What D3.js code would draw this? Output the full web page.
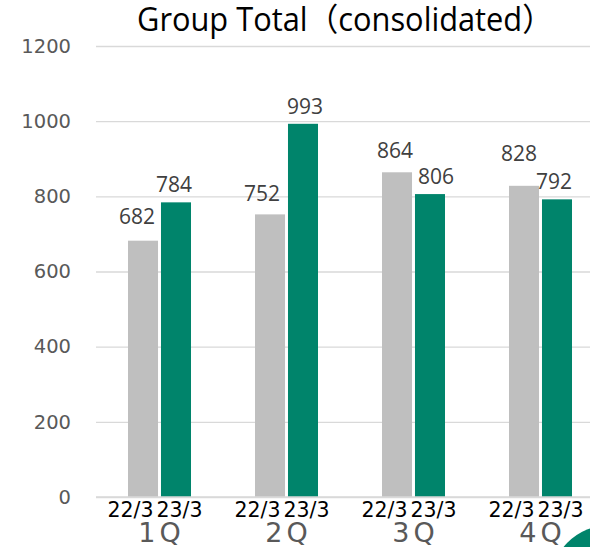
<!DOCTYPE html>
<html>
<head>
<meta charset="utf-8">
<script src="https://cdn.jsdelivr.net/npm/d3@7.9.0/dist/d3.min.js"></script>
<style>
  html, body { margin: 0; padding: 0; background: #fff; }
  svg { display: block; }
</style>
</head>
<body>
<div id="chart"></div>
<script>
// data
const quarters = ["1Q", "2Q", "3Q", "4Q"];
const periods = ["22/3", "23/3"];
const values22 = [682, 752, 864, 828];
const values23 = [784, 993, 806, 792];
const yTicks = [0, 200, 400, 600, 800, 1000, 1200];

// adjust: chart size
const width = 590;
const height = 547;
const margin = { top: 46, right: -14, bottom: 50, left: 96 };

// adjust: label nudges (dx, dy) where Excel moved labels apart
const nudge22 = [[-6, -7], [-8, -3], [-2, -4], [-5, -15]];
const nudge23 = [[-2, 0], [2, 0], [6, 0], [-3, 0]];

const colors = { "22/3": "#bfbfbf", "23/3": "#00846b" };

const rows = quarters.map((q, i) => ({
  quarter: q,
  bars: [
    { period: periods[0], value: values22[i], nudge: nudge22[i] },
    { period: periods[1], value: values23[i], nudge: nudge23[i] }
  ]
}));

const svg = d3.select("#chart")
  .append("svg")
  .attr("width", width)
  .attr("height", height);

const x0 = d3.scaleBand()
  .domain(quarters)
  .range([margin.left, width - margin.right]);

const x1 = d3.scaleBand()
  .domain(periods)
  .range([0, x0.bandwidth()])
  .paddingInner(0.09)
  .paddingOuter(0.97);

const y = d3.scaleLinear()
  .domain([0, 1200])
  .range([height - margin.bottom, margin.top]);

// gridlines
svg.append("g")
  .attr("transform", `translate(${margin.left},0)`)
  .call(d3.axisLeft(y).tickValues(yTicks).tickSize(-(width - margin.right - margin.left)).tickFormat(""))
  .call(g => g.select(".domain").remove())
  .call(g => g.selectAll("line").attr("stroke", "#d9d9d9").attr("stroke-width", 1.3));

// y labels
svg.append("g")
  .attr("transform", `translate(71,0)`)
  .call(d3.axisLeft(y).tickValues(yTicks).tickSize(0).tickPadding(0).tickFormat(d3.format("d")))
  .call(g => g.select(".domain").remove())
  .call(g => g.selectAll("text")
    .attr("fill", "#595959")
    .attr("font-family", "DejaVu Sans")
    .attr("font-size", 19.5));

// bars
const group = svg.append("g")
  .selectAll("g")
  .data(rows)
  .join("g")
  .attr("transform", d => `translate(${x0(d.quarter)},0)`);

group.selectAll("rect")
  .data(d => d.bars)
  .join("rect")
  .attr("x", d => x1(d.period))
  .attr("y", d => y(d.value))
  .attr("width", x1.bandwidth())
  .attr("height", d => y(0) - y(d.value))
  .attr("fill", d => colors[d.period]);

group.selectAll("text.val")
  .data(d => d.bars)
  .join("text")
  .attr("class", "val")
  .attr("x", d => x1(d.period) + x1.bandwidth() / 2 + d.nudge[0])
  .attr("y", d => y(d.value) - 10 + d.nudge[1])
  .attr("text-anchor", "middle")
  .attr("font-family", "Open Sans")
  .attr("font-size", 21)
  .attr("fill", "#404040")
  .text(d => d.value);

// baseline
svg.append("line")
  .attr("x1", margin.left)
  .attr("x2", width)
  .attr("y1", y(0))
  .attr("y2", y(0))
  .attr("stroke", "#d9d9d9")
  .attr("stroke-width", 1.5);

// category labels (two levels)
const cats = svg.append("g")
  .selectAll("g")
  .data(quarters)
  .join("g")
  .attr("transform", d => `translate(${x0(d) + x0.bandwidth() / 2},0)`);

cats.append("text")
  .attr("x", -6)
  .attr("y", y(0) + 20)
  .attr("text-anchor", "end")
  .attr("font-family", "DejaVu Sans")
  .attr("font-size", 20.5)
  .attr("fill", "#000")
  .text(periods[0]);

cats.append("text")
  .attr("x", -3)
  .attr("y", y(0) + 20)
  .attr("text-anchor", "start")
  .attr("font-family", "DejaVu Sans")
  .attr("font-size", 20.5)
  .attr("fill", "#000")
  .text(periods[1]);

cats.append("text")
  .attr("x", 2)
  .attr("y", y(0) + 45)
  .attr("text-anchor", "middle")
  .attr("font-family", "DejaVu Sans")
  .attr("font-size", 27)
  .attr("letter-spacing", 4)
  .attr("fill", "#595959")
  .text(d => d);

// title
svg.append("text")
  .attr("x", 137)
  .attr("y", 31)
  .attr("font-family", "'Open Sans', 'Noto Sans CJK JP'")
  .attr("font-size", 32)
  .attr("textLength", 416)
  .attr("lengthAdjust", "spacingAndGlyphs")
  .attr("fill", "#000")
  .text("Group Total（consolidated）");

// decorative corner circle
svg.append("circle")
  .attr("cx", 610)
  .attr("cy", 585)
  .attr("r", 60)
  .attr("fill", "#00846b");
</script>
</body>
</html>
